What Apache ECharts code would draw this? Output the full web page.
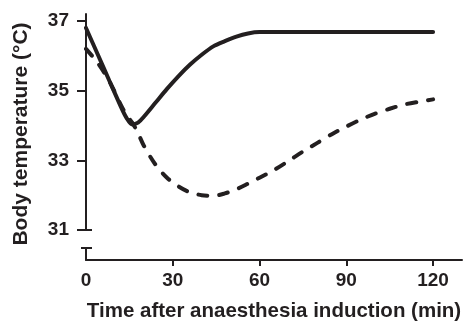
<!DOCTYPE html>
<html>
<head>
<meta charset="utf-8">
<script src="https://cdn.jsdelivr.net/npm/echarts@6/dist/echarts.min.js"></script>
<style>
  html, body { margin: 0; padding: 0; background: #fff; }
  #chart { width: 464px; height: 323px; }
</style>
</head>
<body>
<div id="chart"></div>
<script>
// time after induction (min)
var timeMin = [0, 4, 8, 12, 14, 16, 18, 20, 24, 28, 32, 36, 40, 44, 48, 52, 56, 60,
               65, 70, 75, 80, 85, 90, 95, 100, 105, 110, 115, 120];
// solid line
var tempSolid = [36.8, 36.05, 35.3, 34.55, 34.22, 34.03, 34.08, 34.25, 34.65, 35.05, 35.42, 35.75,
                 36.03, 36.27, 36.42, 36.55, 36.64, 36.68,
                 36.68, 36.68, 36.68, 36.68, 36.68, 36.68, 36.68, 36.68, 36.68, 36.68, 36.68, 36.68];
// dashed line
var tempDashed = [36.2, 35.8, 35.28, 34.6, 34.3, 34.08, 33.78, 33.42, 32.88, 32.5, 32.25, 32.08,
                  32.0, 31.98, 32.05, 32.17, 32.33, 32.5,
                  32.72, 32.98, 33.25, 33.5, 33.75, 33.97, 34.17, 34.34, 34.48, 34.6, 34.68, 34.75];
var xTicks = [0, 30, 60, 90, 120];
var yTicks = [31, 33, 35, 37];

var ink = '#231f20';
var font = 'Liberation Sans, Arial, sans-serif';

function pairs(ys) {
    return timeMin.map(function (t, i) { return [t, ys[i]]; });
}

var chart = echarts.init(document.getElementById('chart'));

chart.setOption({
    animation: false,
    backgroundColor: '#fff',
    grid: [
        {left: 86, right: 2, top: 14, height: 216},   // main panel 31..37.2
        {left: 86, right: 2, top: 248, height: 17}     // below the axis break
    ],
    xAxis: [
        {gridIndex: 0, type: 'value', min: 0, max: 130, show: false},
        {
            gridIndex: 1, type: 'value', min: 0, max: 130,
            axisLine: {lineStyle: {color: ink, width: 2}},
            axisTick: {customValues: [30, 60, 90, 120], length: 6, lineStyle: {color: ink, width: 2}},
            axisLabel: {customValues: xTicks, color: ink, fontFamily: font, fontWeight: 'bold', fontSize: 19, margin: 11},
            splitLine: {show: false},
            name: 'Time after anaesthesia induction (min)',
            nameLocation: 'middle',
            nameGap: 41,
            nameTextStyle: {color: ink, fontFamily: font, fontWeight: 'bold', fontSize: 20.5}
        }
    ],
    yAxis: [
        {
            gridIndex: 0, type: 'value', min: 31, max: 37.2,
            axisLine: {show: true, lineStyle: {color: ink, width: 2}},
            axisTick: {show: true, customValues: yTicks, length: 9, lineStyle: {color: ink, width: 2}},
            axisLabel: {customValues: yTicks, color: ink, fontFamily: font, fontWeight: 'bold', fontSize: 19, margin: 17},
            splitLine: {show: false}
        },
        {
            gridIndex: 1, type: 'value', min: 30, max: 30.5,
            axisLine: {show: true, lineStyle: {color: ink, width: 2}},
            axisTick: {show: true, customValues: [30.5], length: 5, lineStyle: {color: ink, width: 2}},
            axisLabel: {show: false},
            splitLine: {show: false}
        }
    ],
    series: [
        {
            type: 'line', xAxisIndex: 0, yAxisIndex: 0,
            data: pairs(tempSolid),
            smooth: 0.3, showSymbol: false,
            lineStyle: {color: ink, width: 4, cap: 'round', join: 'round'}
        },
        {
            type: 'line', xAxisIndex: 0, yAxisIndex: 0,
            data: pairs(tempDashed),
            smooth: 0.3, showSymbol: false,
            lineStyle: {color: ink, width: 4, type: [9, 12], cap: 'round', join: 'round'}
        }
    ]
});

// break caps on the y axis + rotated y title
var p31 = chart.convertToPixel({gridIndex: 0}, [0, 31]);
var p305 = chart.convertToPixel({gridIndex: 1}, [0, 30.5]);
var capStyle = {stroke: ink, lineWidth: 2};
chart.setOption({
    graphic: [
        {type: 'line', shape: {x1: p31[0], y1: p31[1], x2: p31[0] + 6, y2: p31[1]}, style: capStyle},
        {type: 'line', shape: {x1: p305[0], y1: p305[1], x2: p305[0] + 6, y2: p305[1]}, style: capStyle},
        {
            type: 'text', x: 21, y: 134, rotation: Math.PI / 2,
            style: {
                text: 'Body temperature (°C)', fill: ink,
                font: 'bold 21px ' + font, align: 'center', verticalAlign: 'middle'
            }
        }
    ]
});
</script>
</body>
</html>
